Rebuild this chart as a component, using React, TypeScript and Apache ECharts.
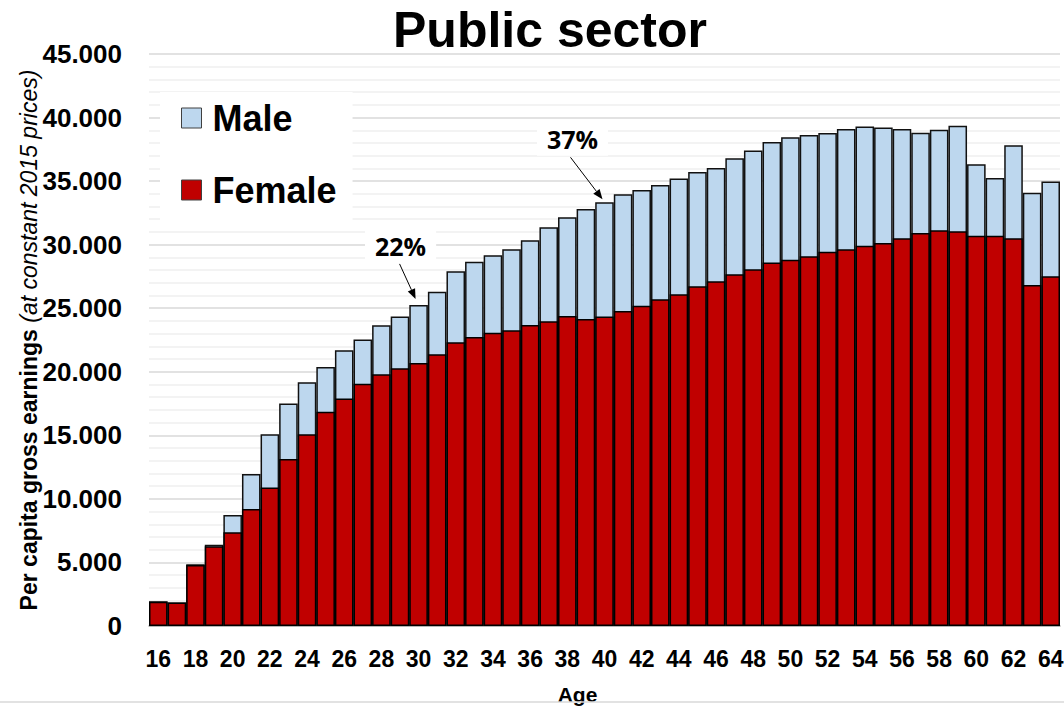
import { useEffect, useRef } from 'react';
import * as echarts from 'echarts';

// Age categories (years)
const ages = [
  '16', '17', '18', '19', '20', '21', '22', '23', '24', '25',
  '26', '27', '28', '29', '30', '31', '32', '33', '34', '35',
  '36', '37', '38', '39', '40', '41', '42', '43', '44', '45',
  '46', '47', '48', '49', '50', '51', '52', '53', '54', '55',
  '56', '57', '58', '59', '60', '61', '62', '63', '64',
];

// Per capita gross earnings, men (constant 2015 prices)
const maleEarnings = [
  1950, 1850, 4850, 6400, 8730, 11960, 15080, 17500, 19170, 20380,
  21690, 22530, 23660, 24340, 25260, 26300, 27900, 28660, 29160, 29640,
  30340, 31370, 32160, 32810, 33330, 33960, 34300, 34700, 35200, 35720,
  36030, 36800, 37400, 38080, 38450, 38630, 38790, 39100, 39290, 39210,
  39100, 38810, 39050, 39360, 36320, 35250, 37820, 34090, 34960,
];

// Per capita gross earnings, women (constant 2015 prices)
const femaleEarnings = [
  1900, 1840, 4800, 6270, 7370, 9200, 10900, 13140, 15080, 16860,
  17900, 19050, 19800, 20270, 20700, 21370, 22320, 22740, 23080, 23260,
  23680, 23970, 24390, 24150, 24340, 24780, 25200, 25700, 26100, 26720,
  27120, 27680, 28060, 28590, 28820, 29080, 29450, 29640, 29920, 30130,
  30500, 30920, 31130, 31050, 30710, 30710, 30500, 26830, 27510,
];

// Ages at which the male/female earnings gap is called out
const gapAges = ['30', '40'];

const SANS = "'Liberation Sans Narrow', 'Arial Narrow', 'Liberation Sans', Arial, sans-serif";

const thousands = (v: number) => String(v).replace(/\B(?=(\d{3})+(?!\d))/g, '.');

export default function App() {
  const ref = useRef<HTMLDivElement>(null);

  useEffect(() => {
    const chart = echarts.init(ref.current!, null, { renderer: 'svg' });

    chart.setOption({
      animation: false,
      backgroundColor: '#fff',
      title: {
        text: 'Public sector',
        left: 550,
        top: 5,
        padding: 0,
        textAlign: 'center',
        textStyle: { fontFamily: SANS, fontWeight: 'bold', fontSize: 50, color: '#000' },
      },
      legend: {
        data: ['Male', 'Female'],
        orient: 'vertical',
        left: 160,
        top: 92,
        padding: [6, 16, 10, 21],
        itemWidth: 20,
        itemHeight: 20,
        itemGap: 32,
        backgroundColor: '#fff',
        icon: 'rect',
        itemStyle: { borderColor: '#404040', borderWidth: 1 },
        textStyle: {
          fontFamily: SANS,
          fontWeight: 'bold',
          fontSize: 36,
          lineHeight: 40,
          color: '#000',
          padding: [0, 0, 0, 6],
        },
      },
      grid: { left: 149, right: 4, top: 54, bottom: 80, outerBoundsMode: 'none' },
      xAxis: {
        type: 'category',
        data: ages,
        axisTick: { show: false },
        axisLine: { lineStyle: { color: '#a6a6a6', width: 1.5 } },
        axisLabel: {
          interval: 1,
          margin: 21,
          fontFamily: SANS,
          fontWeight: 'bold',
          fontSize: 23,
          color: '#000',
        },
        name: 'Age',
        nameLocation: 'middle',
        nameGap: 58,
        nameTextStyle: {
          fontFamily: SANS,
          fontWeight: 'bold',
          fontSize: 21,
          color: '#000',
          padding: [0, 54, 0, 0],
        },
      },
      yAxis: {
        type: 'value',
        min: 0,
        max: 45000,
        interval: 5000,
        axisLine: { show: false },
        axisTick: { show: false },
        axisLabel: {
          formatter: thousands,
          margin: 27,
          fontFamily: SANS,
          fontWeight: 'bold',
          fontSize: 26,
          color: '#000',
        },
        splitLine: { lineStyle: { color: '#d9d9d9', width: 1.5 } },
        minorTick: { show: false, splitNumber: 5 },
        minorSplitLine: { show: true, lineStyle: { color: '#efefef', width: 1.5 } },
        name: '{b|Per capita gross earnings }{i|(at constant 2015 prices)}',
        nameLocation: 'middle',
        nameGap: 109,
        nameMoveOverlap: false,
        nameTextStyle: {
          rich: {
            b: { fontFamily: SANS, fontWeight: 'bold', fontSize: 23, color: '#000' },
            i: { fontFamily: SANS, fontStyle: 'italic', fontSize: 23, color: '#000' },
          },
        },
      },
      series: [
        {
          name: 'Male',
          type: 'bar',
          data: maleEarnings,
          barGap: '-100%',
          barCategoryGap: 0,
          itemStyle: { color: '#bdd7ee', borderColor: '#111', borderWidth: 1.5 },
        },
        {
          name: 'Female',
          type: 'bar',
          data: femaleEarnings,
          barGap: '-100%',
          barCategoryGap: 0,
          itemStyle: { color: '#c00000', borderColor: '#000', borderWidth: 1.5 },
        },
      ],
    });

    // Callouts: gap label with an arrow pointing at the top of the male bar
    const callout: Record<string, { tip: number[]; tail: number[]; text: number[] }> = {
      '30': { tip: [-3, -6], tail: [-19, -41], text: [-18, -59] },
      '40': { tip: [-2, -3], tail: [-34, -45], text: [-32, -63] },
    };

    const graphics: any[] = [];
    gapAges.forEach((age) => {
      const i = ages.indexOf(age);
      const m = maleEarnings[i];
      const f = femaleEarnings[i];
      const gap = Math.round((m / f - 1) * 100);
      const [cx, cy] = chart.convertToPixel({ xAxisIndex: 0, yAxisIndex: 0 }, [i, m]) as number[];
      const c = callout[age];
      const tx = cx + c.tip[0];
      const ty = cy + c.tip[1];
      const sx = cx + c.tail[0];
      const sy = cy + c.tail[1];
      const ang = Math.atan2(ty - sy, tx - sx);
      const len = 10;
      const half = 4;
      const bx = tx - len * Math.cos(ang);
      const by = ty - len * Math.sin(ang);
      graphics.push(
        {
          type: 'line',
          z: 20,
          shape: { x1: sx, y1: sy, x2: bx, y2: by },
          style: { stroke: '#000', lineWidth: 1 },
        },
        {
          type: 'polygon',
          z: 20,
          shape: {
            points: [
              [tx, ty],
              [bx + half * Math.sin(ang), by - half * Math.cos(ang)],
              [bx - half * Math.sin(ang), by + half * Math.cos(ang)],
            ],
          },
          style: { fill: '#000' },
        },
        {
          type: 'text',
          z: 20,
          style: {
            text: gap + '%',
            x: cx + c.text[0],
            y: cy + c.text[1],
            align: 'center',
            verticalAlign: 'middle',
            fontFamily: "'Open Sans', 'Noto Sans', sans-serif",
            fontWeight: 'bold',
            fontSize: 25,
            fill: '#000',
            backgroundColor: '#fff',
            padding: [4, 10],
          },
        },
      );
    });

    graphics.push({
      type: 'line',
      z: 20,
      shape: { x1: 0, y1: 702, x2: 1064, y2: 702 },
      style: { stroke: '#d9d9d9', lineWidth: 1.5 },
    });

    chart.setOption({ graphic: graphics });

    return () => chart.dispose();
  }, []);

  return (
    <div
      ref={ref}
      style={{ position: 'fixed', left: 0, top: 0, width: 1064, height: 706 }}
    />
  );
}
